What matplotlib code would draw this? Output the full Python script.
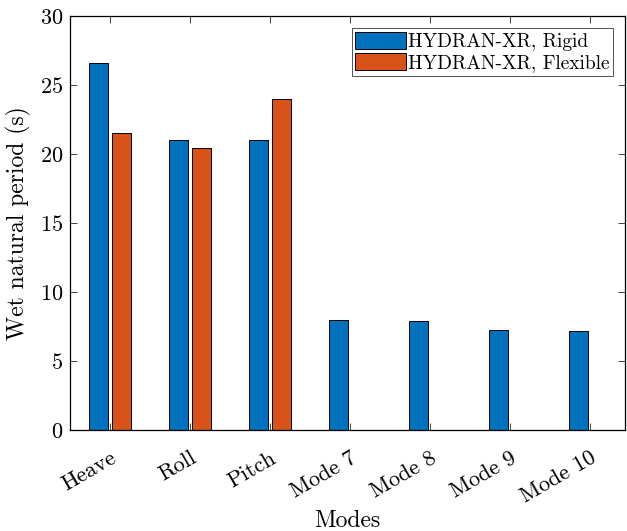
import numpy as np
import matplotlib
matplotlib.use('Agg')
import matplotlib.pyplot as plt

plt.rcParams['font.family'] = ['cmr10', 'DejaVu Serif']
plt.rcParams['mathtext.fontset'] = 'cm'
plt.rcParams['axes.formatter.use_mathtext'] = True

# dados
modos = ['Heave', 'Roll', 'Pitch', 'Mode 7', 'Mode 8', 'Mode 9', 'Mode 10']
rigido = [26.6, 21.05, 21.05, 7.97, 7.9, 7.25, 7.2]
flexivel = [21.5, 20.4, 24.0, 0, 0, 0, 0]

azul = '#0072BD'
laranja = '#D95319'

fig = plt.figure(figsize=(6.27, 5.31), dpi=100)
ax = fig.add_axes([70/627, 1 - 430/531, 555/627, 414/531])

x = np.arange(1, len(modos) + 1)
largura = 0.235
ax.bar(x - 0.143, rigido, largura, color=azul, edgecolor='black', linewidth=0.7,
       label='HYDRAN-XR, Rigid', zorder=2)
ax.bar(x + 0.143, flexivel, largura, color=laranja, edgecolor='black', linewidth=0.7,
       label='HYDRAN-XR, Flexible', zorder=2)

ax.set_xlim(0.5, 7.44)
ax.set_ylim(0, 30)
ax.set_xticks(x)
ax.set_xticklabels(modos, rotation=30, ha='right', rotation_mode='anchor', fontsize=16)
ax.set_yticks(np.arange(0, 31, 5))
ax.tick_params(axis='y', labelsize=16, pad=5)
ax.tick_params(axis='x', pad=13)
ax.tick_params(direction='in', top=True, right=True, length=5, width=0.6, color='#262626')
for s in ax.spines.values():
    s.set_linewidth(0.9)

ax.set_xlabel('Modes', fontsize=17, labelpad=2)
ax.set_ylabel('Wet natural period (s)', fontsize=17, labelpad=6)

leg = ax.legend(loc='upper right', fontsize=14, frameon=True, fancybox=False,
                edgecolor='#262626', borderpad=0.2, handlelength=2.6, handleheight=1.0,
                handletextpad=0.1, labelspacing=0.1, borderaxespad=0.6)
leg.get_frame().set_linewidth(0.7)

plt.savefig('out.png', dpi=100)
